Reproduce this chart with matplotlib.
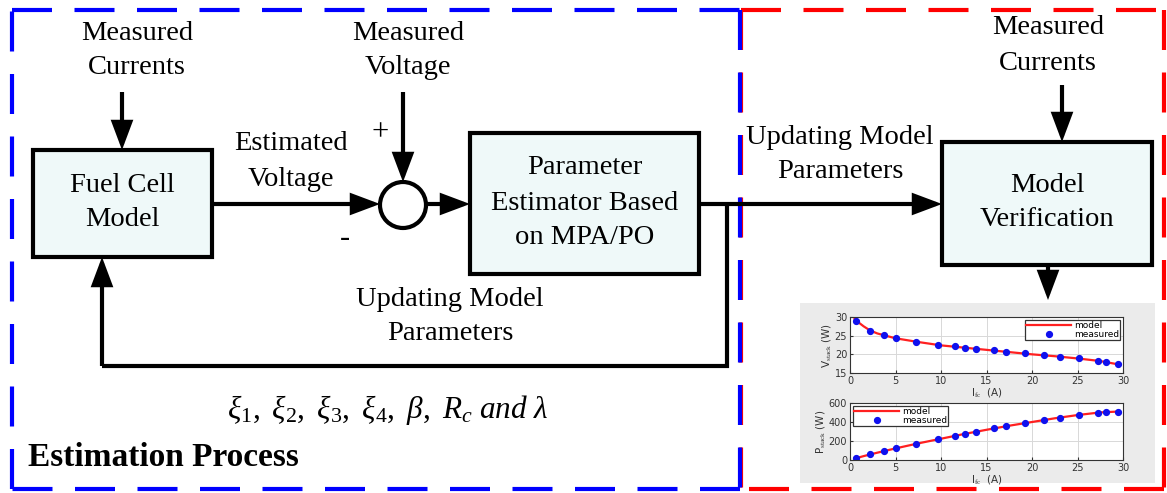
import matplotlib.pyplot as plt
from matplotlib.patches import Rectangle, Circle

# --- inset data ---
I_meas = [0.7, 2.2, 3.75, 5.1, 7.3, 9.7, 11.5, 12.6, 13.9, 15.8, 17.1, 19.2, 21.3, 23.1, 25.2, 27.2, 28.1, 29.4]
V_meas = [29.0, 26.3, 25.1, 24.3, 23.4, 22.5, 22.1, 21.8, 21.5, 21.1, 20.7, 20.3, 19.7, 19.4, 18.9, 18.3, 18.0, 17.4]
P_meas = [20, 58, 94, 124, 170, 218, 252, 274, 298, 332, 354, 388, 418, 446, 474, 496, 504, 510]

I_model = [0.5, 0.7, 1.5, 2.2, 3.0, 3.75, 5.0, 7.5, 10.0, 12.5, 15.0, 17.5, 20.0, 22.5, 25.0, 27.5, 29.5]
V_model = [29.5, 29.0, 27.5, 26.4, 25.6, 25.1, 24.3, 23.3, 22.4, 21.8, 21.2, 20.6, 20.0, 19.5, 18.9, 18.2, 17.3]
P_model = [15, 20, 41, 58, 77, 94, 122, 175, 224, 273, 318, 361, 400, 439, 473, 501, 510]

V_ticks = [15, 20, 25, 30]
P_ticks = [0, 200, 400, 600]
I_ticks = [0, 5, 10, 15, 20, 25, 30]

# --- Config ---
W, H = 1167, 493
SERIF = "Liberation Serif"
FS = 20.5
LW = 3.0
BOX_FILL = "#eff9f9"

plt.rcParams["mathtext.fontset"] = "custom"
plt.rcParams["mathtext.rm"] = SERIF
plt.rcParams["mathtext.it"] = SERIF + ":italic"


def arrow(ax, x0, y0, x1, y1):
    ax.annotate("", xy=(x1, y1), xytext=(x0, y0),
                arrowprops=dict(arrowstyle="-|>,head_length=1.6,head_width=0.6",
                                lw=LW, color="k", shrinkA=0, shrinkB=0,
                                joinstyle="miter", capstyle="butt"))


def line(ax, xs, ys):
    ax.plot(xs, ys, color="k", lw=LW, solid_capstyle="butt", solid_joinstyle="miter")


def box(ax, x0, y0, x1, y1):
    ax.add_patch(Rectangle((x0, y0), x1 - x0, y1 - y0, facecolor=BOX_FILL,
                           edgecolor="k", lw=LW, joinstyle="miter"))


def label(ax, x, y, s, **kw):
    ax.text(x, y, s, ha="center", va="center", fontsize=FS, family=SERIF, **kw)


def dashed(ax, xs, ys, color):
    ax.plot(xs, ys, color=color, lw=LW, linestyle=(0, (9.6, 5.4)), solid_capstyle="butt")


fig = plt.figure(figsize=(W / 100, H / 100), dpi=100)
ax = fig.add_axes([0, 0, 1, 1])
ax.set_xlim(0, W)
ax.set_ylim(H, 0)
ax.axis("off")

# dashed frames: red (verification) then blue (estimation) on top
dashed(ax, [741, 1164], [10, 10], "red")
dashed(ax, [1164, 1164], [10, 489], "red")
dashed(ax, [1164, 741], [489, 489], "red")
dashed(ax, [741, 741], [10, 489], "red")
dashed(ax, [12, 740], [10, 10], "blue")
dashed(ax, [740, 740], [10, 489], "blue")
dashed(ax, [740, 12], [489, 489], "blue")
dashed(ax, [12, 12], [489, 10], "blue")

# blocks
box(ax, 33, 150, 212, 257)
box(ax, 470, 133, 699, 274)
box(ax, 942, 142, 1152, 265)
ax.add_patch(Circle((403, 205), 23, facecolor="white", edgecolor="k", lw=LW))

# connections
arrow(ax, 122, 92, 122, 150)
arrow(ax, 212, 204, 380, 204)
arrow(ax, 403, 92, 403, 182)
arrow(ax, 426, 204, 470, 204)
line(ax, [699, 727], [204, 204])
arrow(ax, 727, 204, 942, 204)
line(ax, [727, 727, 102], [204, 366, 366])
arrow(ax, 102, 366, 102, 257)
arrow(ax, 1062, 85, 1062, 142)
arrow(ax, 1048, 265, 1048, 300)

# labels
label(ax, 137, 33, "Measured")
label(ax, 137, 68, "Currents")
label(ax, 408, 33, "Measured")
label(ax, 408, 68, "Voltage")
label(ax, 291, 143, "Estimated")
label(ax, 291, 179, "Voltage")
ax.text(380, 133, "+", ha="center", va="center", fontsize=22, family=SERIF)
ax.text(345, 238, "-", ha="center", va="center", fontsize=22, family=SERIF)
label(ax, 122, 185, "Fuel Cell")
label(ax, 122, 219, "Model")
label(ax, 585, 168, "Parameter")
label(ax, 585, 203, "Estimator Based")
label(ax, 585, 237, "on MPA/PO")
label(ax, 450, 300, "Updating Model")
label(ax, 450, 334, "Parameters")
label(ax, 840, 137, "Updating Model")
label(ax, 840, 172, "Parameters")
label(ax, 1047, 185, "Model")
label(ax, 1047, 219, "Verification")
label(ax, 1048, 28, "Measured")
label(ax, 1048, 63, "Currents")
ax.text(388, 410,
        r"$\xi_{\mathit{1}},\ \xi_{\mathit{2}},\ \xi_{\mathit{3}},\ \xi_{\mathit{4}},\ \beta,\ R_c\ and\ \lambda$",
        ha="center", va="center", fontsize=22.5)
ax.text(28, 457, "Estimation Process", ha="left", va="center", fontsize=24,
        family=SERIF, fontweight="bold")

# --- inset verification plots ---
ax.add_patch(Rectangle((800, 303), 355, 180, facecolor="#ebebeb", edgecolor="none"))


def fx(px):
    return px / W


def fy(py):
    return 1 - py / H


def inset(top, bottom, model, meas, ticks, ylab, loc):
    a = fig.add_axes([fx(850), fy(bottom), fx(1123) - fx(850), fy(top) - fy(bottom)])
    a.plot(I_model, model, color="#ff2020", lw=1.6, label="model")
    a.plot(I_meas, meas, "o", color="#1010ee", ms=4.2, label="measured")
    a.set_xlim(0, 30)
    a.set_ylim(ticks[0], ticks[-1])
    a.set_xticks(I_ticks)
    a.set_yticks(ticks)
    a.grid(True, color="#d8d8d8", lw=0.7)
    a.tick_params(direction="in", labelsize=7, length=2, pad=2, colors="#333333")
    for sp in a.spines.values():
        sp.set_color("#333333")
        sp.set_linewidth(0.8)
    a.set_xlabel(r"I$_{\rm fc}$  (A)", fontsize=7.5, labelpad=0, color="#333333")
    a.set_ylabel(ylab, fontsize=7.5, labelpad=1, color="#333333")
    leg = a.legend(loc=loc, fontsize=6.5, handlelength=5, borderpad=0.15,
                   labelspacing=0.0, handletextpad=0.3, fancybox=False,
                   framealpha=1, borderaxespad=0.3)
    leg.get_frame().set_edgecolor("#333333")
    leg.get_frame().set_linewidth(0.9)
    return a


inset(317, 373, V_model, V_meas, V_ticks, r"V$_{\rm stack}$ (W)", "upper right")
inset(403, 460, P_model, P_meas, P_ticks, r"P$_{\rm stack}$ (W)", "upper left")

fig.savefig("out.png", dpi=100)
